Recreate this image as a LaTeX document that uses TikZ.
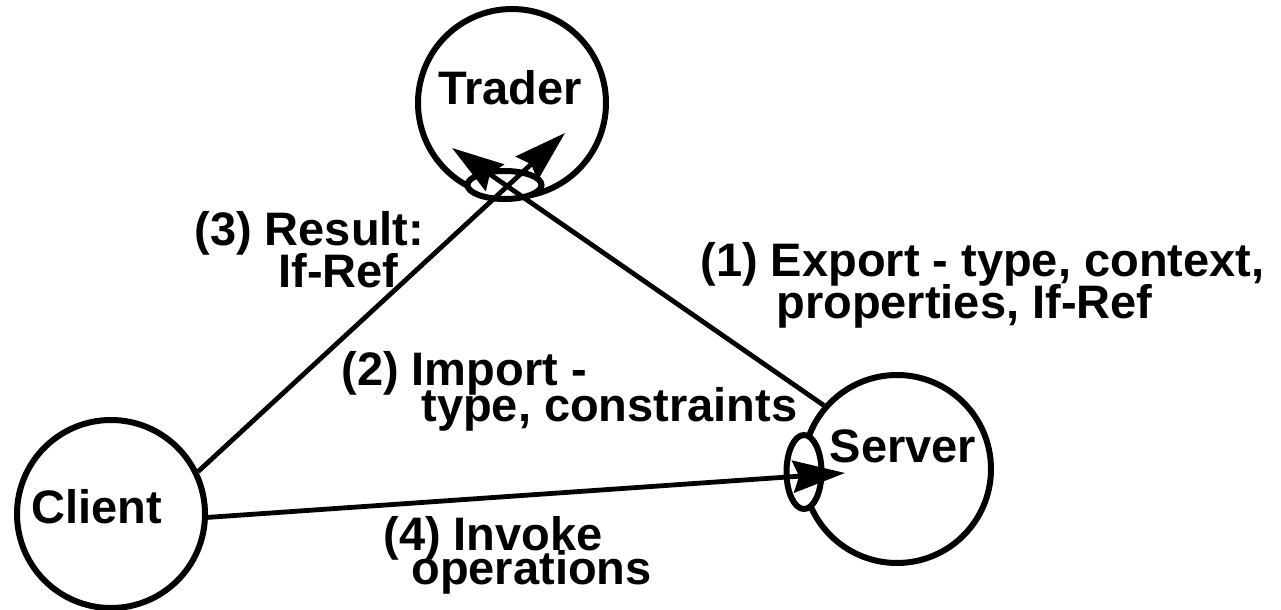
\documentclass[tikz,border=0pt]{standalone}
\usepackage{fontspec}
\setmainfont{Liberation Sans}
\usetikzlibrary{arrows.meta,shapes.geometric}

\tikzset{
  party/.style={circle, draw, line width=3pt, minimum size=94pt, inner sep=0pt},
  port/.style={ellipse, draw, fill=white, line width=3pt, inner sep=0pt},
  flow/.style={line width=2.4pt, -{Stealth[length=26pt,width=16pt,inset=3pt]}},
  txt/.style={anchor=base west, inner sep=0pt, font=\bfseries\fontsize{23.5}{23.5}\selectfont},
  title/.style={anchor=base, inner sep=0pt, font=\bfseries\fontsize{23.5}{23.5}\selectfont}
}

\begin{document}
\begin{tikzpicture}[x=0.5pt, y=-0.5pt]
  \useasboundingbox[fill=white] (0,0) rectangle (1281,610);

  % the three parties
  \node[party] (trader) at (512,103) {};
  \node[party] (server) at (897,469) {};
  \node[party] (client) at (111,514) {};

  % interface ports
  \node[port, minimum width=37pt, minimum height=14pt] (tport) at (504.5,185) {};
  \node[port, minimum width=17.5pt, minimum height=37pt] (sport) at (804,472) {};

  % arrow tips inside the parties
  \coordinate (tipL) at (452,148);
  \coordinate (tipR) at (565,133);
  \coordinate (tipS) at (845,473);

  % interactions
  \draw[flow] (server.139) -- (tipL);
  \draw[flow] (client.26) -- (tipR);
  \draw[flow] (client.-2) -- (tipS);

  % party names
  \node[title] (tname) at (510,105) {Trader};
  \node[title] (sname) at (903,462) {Server};
  \node[title] (cname) at (97,523) {Client};

  % step labels
  \node[txt] (l3a) at (194,245) {(3) Result:};
  \node[txt] (l3b) at (278,287) {If-Ref};
  \node[txt] (l1a) at (700,277) {(1) Export - type, context,};
  \node[txt] (l1b) at (776,318) {properties, If-Ref};
  \node[txt] (l2a) at (341,385) {(2) Import -};
  \node[txt] (l2b) at (421,421) {type, constraints};
  \node[txt] (l4a) at (383,550) {(4) Invoke};
  \node[txt] (l4b) at (411,584) {operations};
\end{tikzpicture}
\end{document}
